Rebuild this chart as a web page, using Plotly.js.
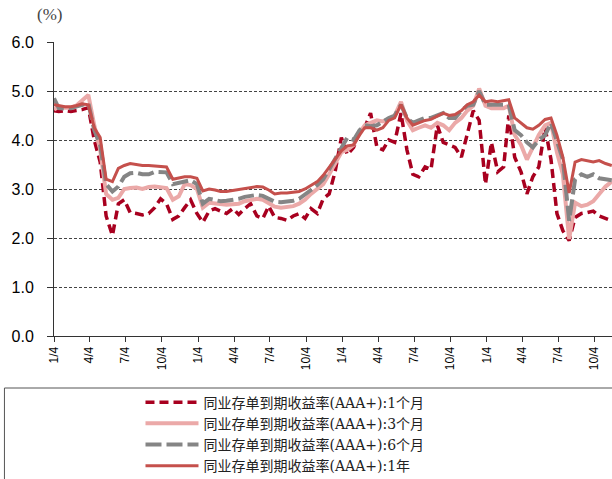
<!DOCTYPE html>
<html><head><meta charset="utf-8">
<script src="https://cdn.plot.ly/plotly-3.0.1.min.js"></script>
<style>html,body{margin:0;padding:0;background:#fff;} #chart{width:612px;height:479px;}</style>
</head><body><div id="chart"></div>
<script>
const dates = [
'2015-01-04','2015-01-16','2015-02-01','2015-02-16','2015-03-01','2015-03-16','2015-04-01','2015-04-16','2015-05-01','2015-05-16','2015-06-01','2015-06-16',
'2015-07-01','2015-07-16','2015-08-01','2015-08-16','2015-09-01','2015-09-16','2015-10-01','2015-10-16','2015-11-01','2015-11-16','2015-12-01','2015-12-16',
'2016-01-01','2016-01-16','2016-02-01','2016-02-16','2016-03-01','2016-03-16','2016-04-01','2016-04-16','2016-05-01','2016-05-16','2016-06-01','2016-06-16',
'2016-07-01','2016-07-16','2016-08-01','2016-08-16','2016-09-01','2016-09-16','2016-10-01','2016-10-16','2016-11-01','2016-11-16','2016-12-01','2016-12-16',
'2017-01-01','2017-01-16','2017-02-01','2017-02-16','2017-03-01','2017-03-16','2017-04-01','2017-04-16','2017-05-01','2017-05-16','2017-06-01','2017-06-16',
'2017-07-01','2017-07-16','2017-08-01','2017-08-16','2017-09-01','2017-09-16','2017-10-01','2017-10-16','2017-11-01','2017-11-16','2017-12-01','2017-12-16',
'2018-01-01','2018-01-16','2018-02-01','2018-02-16','2018-03-01','2018-03-16','2018-04-01','2018-04-16','2018-05-01','2018-05-16','2018-06-01','2018-06-16',
'2018-07-01','2018-07-16','2018-08-01','2018-08-16','2018-09-01','2018-09-16','2018-10-01','2018-10-16','2018-11-01','2018-11-17'
];
const ncd1m = [
4.60,4.58,4.60,4.58,4.60,4.62,4.66,4.00,3.55,2.45,2.05,2.70,2.78,2.52,2.50,2.47,2.50,2.62,2.80,2.70,2.38,2.45,2.62,2.78,
2.50,2.32,2.55,2.60,2.55,2.50,2.60,2.48,2.60,2.70,2.45,2.40,2.65,2.42,2.40,2.36,2.45,2.50,2.40,2.60,2.50,2.80,2.90,3.35,
4.05,3.70,3.85,4.20,4.25,4.55,3.85,3.80,4.00,3.95,4.55,3.80,3.30,3.25,3.45,3.40,4.30,3.95,3.90,3.85,3.65,4.10,4.60,4.40,
3.10,3.95,3.35,3.45,4.50,3.65,3.35,2.90,3.25,3.45,4.25,3.60,2.50,2.15,1.95,2.42,2.50,2.52,2.55,2.45,2.40,2.35
];
const ncd3m = [
4.62,4.68,4.66,4.66,4.70,4.80,4.92,4.30,3.80,2.90,2.78,2.82,3.00,3.02,3.03,3.00,3.04,3.05,3.04,3.02,2.78,2.85,3.10,3.08,
3.00,2.62,2.72,2.70,2.68,2.68,2.69,2.70,2.75,2.78,2.80,2.78,2.70,2.64,2.62,2.63,2.65,2.70,2.78,2.90,3.00,3.10,3.30,3.50,
3.75,3.80,3.90,4.15,4.30,4.35,4.40,4.38,4.42,4.50,4.78,4.40,4.20,4.25,4.30,4.25,4.35,4.30,4.20,4.35,4.45,4.60,4.70,5.05,
4.70,4.65,4.65,4.65,4.70,4.10,3.90,3.60,3.85,4.10,4.30,4.35,3.75,3.30,1.98,2.72,2.65,2.68,2.75,2.90,3.05,3.15
];
const ncd6m = [
4.85,4.65,4.64,4.65,4.68,4.72,4.75,4.20,3.90,3.10,2.95,3.05,3.25,3.32,3.33,3.30,3.30,3.35,3.35,3.34,3.10,3.12,3.15,3.18,
3.10,2.70,2.80,2.77,2.75,2.76,2.78,2.80,2.84,2.86,2.88,2.86,2.80,2.74,2.73,2.74,2.76,2.80,2.88,2.98,3.08,3.20,3.40,3.60,
3.85,4.05,4.00,4.20,4.30,4.28,4.30,4.38,4.45,4.50,4.72,4.45,4.35,4.40,4.45,4.45,4.50,4.55,4.45,4.45,4.60,4.70,4.72,5.00,
4.72,4.72,4.70,4.72,4.72,4.20,4.10,3.95,3.85,4.00,4.10,4.35,3.95,3.60,2.35,3.20,3.30,3.25,3.30,3.22,3.20,3.18
];
const ncd1y = [
4.72,4.70,4.68,4.68,4.70,4.74,4.72,4.25,4.05,3.20,3.15,3.42,3.48,3.52,3.50,3.48,3.48,3.47,3.46,3.45,3.20,3.22,3.25,3.25,
3.22,2.96,3.00,2.98,2.95,2.95,2.97,2.98,3.00,3.02,3.05,3.04,2.98,2.90,2.92,2.92,2.93,2.95,3.00,3.08,3.15,3.28,3.45,3.60,
3.78,3.88,3.90,4.10,4.25,4.25,4.20,4.25,4.40,4.45,4.72,4.45,4.30,4.35,4.40,4.42,4.48,4.55,4.50,4.52,4.60,4.72,4.78,4.92,
4.78,4.80,4.78,4.80,4.82,4.45,4.35,4.25,4.22,4.30,4.42,4.45,4.10,3.65,2.92,3.55,3.60,3.58,3.55,3.58,3.52,3.48
];
const seriesNames = [
'同业存单到期收益率(AAA+):1个月',
'同业存单到期收益率(AAA+):3个月',
'同业存单到期收益率(AAA+):6个月',
'同业存单到期收益率(AAA+):1年'
];
const tickDates = ['2015-01-04','2015-04-04','2015-07-04','2015-10-04','2016-01-04','2016-04-04','2016-07-04','2016-10-04',
'2017-01-04','2017-04-04','2017-07-04','2017-10-04','2018-01-04','2018-04-04','2018-07-04','2018-10-04'];
const tickLabels = ['1/4','4/4','7/4','10/4','1/4','4/4','7/4','10/4','1/4','4/4','7/4','10/4','1/4','4/4','7/4','10/4'];

const traces = [
  {x:dates, y:ncd1m, name:seriesNames[0], mode:'lines', line:{color:'#A8001F', width:3.5, dash:'9px,5px'}},
  {x:dates, y:ncd3m, name:seriesNames[1], mode:'lines', line:{color:'#EBA9A8', width:4}},
  {x:dates, y:ncd6m, name:seriesNames[2], mode:'lines', line:{color:'#858585', width:4, dash:'16px,5px'}},
  {x:dates, y:ncd1y, name:seriesNames[3], mode:'lines', line:{color:'#C5504C', width:3}}
];

const layout = {
  width:612, height:479,
  margin:{l:54, r:0, t:42, b:143, pad:0, autoexpand:false},
  paper_bgcolor:'#ffffff', plot_bgcolor:'#ffffff',
  showlegend:true,
  xaxis:{type:'date', range:['2015-01-04','2018-11-17 12:00'], tickmode:'array', tickvals:tickDates, ticktext:tickLabels,
    tickangle:-90, ticks:'outside', ticklen:5, tickcolor:'#333', showline:true, linecolor:'#333', linewidth:1,
    showgrid:false, zeroline:false, fixedrange:true, automargin:false,
    tickfont:{family:'Liberation Sans, Arial, sans-serif', size:12, color:'#000'}},
  yaxis:{range:[0,6], tickmode:'linear', tick0:0, dtick:1, tickformat:'.1f', ticks:'outside', ticklen:6, tickcolor:'#333',
    showline:true, linecolor:'#333', linewidth:1, showgrid:true, gridcolor:'#444', griddash:'3px,2px', gridwidth:1,
    zeroline:false, fixedrange:true, ticklabelstandoff:10, automargin:false,
    tickfont:{family:'Liberation Sans, Arial, sans-serif', size:16, color:'#000'}},
  legend:{orientation:'v', x:0.155, xanchor:'left', y:-0.172, yanchor:'top', bgcolor:'rgba(0,0,0,0)', borderwidth:0,
    font:{family:'DejaVu Serif, Noto Sans CJK SC, serif', size:14, color:'#222'}, itemwidth:53},
  annotations:[{text:'(%)', xref:'paper', yref:'paper', x:-0.008, y:1.092, xanchor:'center', yanchor:'middle',
    showarrow:false, font:{family:'Liberation Serif, serif', size:17, color:'#444'}}],
  shapes:[{type:'rect', xref:'paper', yref:'paper', x0:-0.0888, x1:1.02, y0:-0.52, y1:-0.1769,
    line:{color:'#555', width:1}, fillcolor:'rgba(0,0,0,0)', layer:'above'}]
};

Plotly.newPlot('chart', traces, layout, {staticPlot:true, displayModeBar:false});
</script>
</body></html>
